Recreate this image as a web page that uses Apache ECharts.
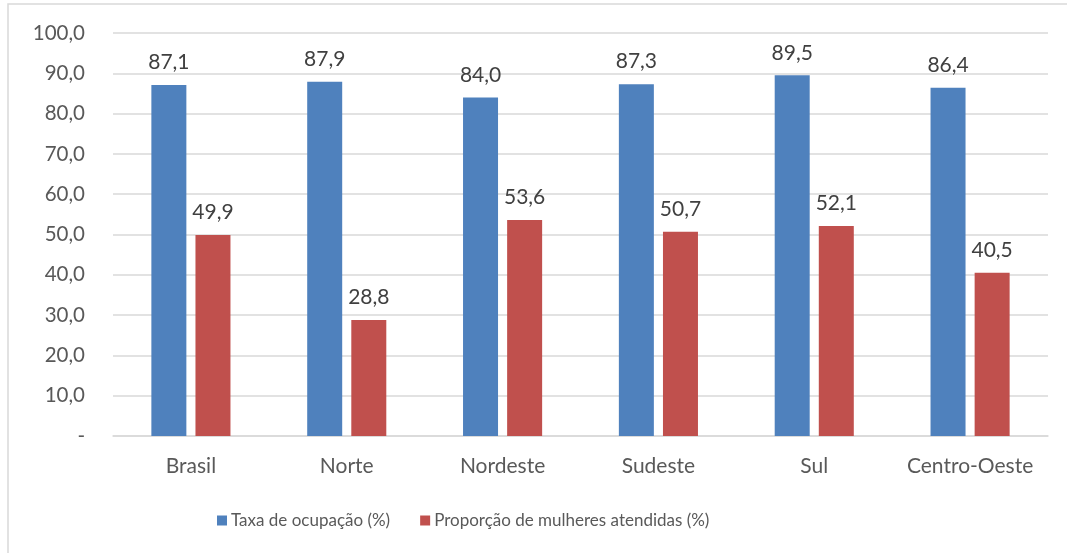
<!DOCTYPE html>
<html><head><meta charset="utf-8">
<script src="https://cdn.jsdelivr.net/npm/echarts@6/dist/echarts.min.js"></script>
<style>html,body{margin:0;padding:0;background:#fff}#c{width:1067px;height:553px}</style>
</head><body><div id="c"></div>
<script>
const categories = ['Brasil','Norte','Nordeste','Sudeste','Sul','Centro-Oeste'];
const taxaOcupacao = [87.1, 87.9, 84.0, 87.3, 89.5, 86.4];
const proporcaoMulheres = [49.9, 28.8, 53.6, 50.7, 52.1, 40.5];
const seriesNames = ['Taxa de ocupação (%)', 'Proporção de mulheres atendidas (%)'];
const fmt = v => v === 0 ? '-' : Number(v).toFixed(1).replace('.', ',');
const FONT = 'Lato';
const chart = echarts.init(document.getElementById('c'));
chart.setOption({
  animation: false,
  backgroundColor: '#fff',
  textStyle: {fontFamily: FONT},
  graphic: [{type:'rect', shape:{x:8, y:4, width:1070, height:560}, style:{fill:'none', stroke:'#d9d9d9', lineWidth:1.5}}],
  grid: {left:113, right:19, top:33, bottom:117},
  legend: {
    top: 507, left: 212, itemWidth: 10, itemHeight: 10, itemGap: 30,
    icon: 'rect',
    textStyle: {fontFamily: FONT, fontSize: 17, color: '#595959', padding: [0,0,0,-1]},
    data: seriesNames
  },
  xAxis: {
    type: 'category', data: categories,
    axisLine: {lineStyle: {color: '#d9d9d9', width: 1.5}},
    axisTick: {show: false},
    axisLabel: {interval: 0, fontFamily: FONT, fontSize: 21, color: '#595959', margin: 20}
  },
  yAxis: {
    type: 'value', min: 0, max: 100, interval: 10,
    axisLine: {show: false}, axisTick: {show: false},
    splitLine: {lineStyle: {color: '#d9d9d9', width: 1.5}},
    axisLabel: {fontFamily: FONT, fontSize: 20.5, color: '#595959', margin: 28, formatter: fmt}
  },
  series: [
    {name: seriesNames[0], type: 'bar', data: taxaOcupacao, barWidth: 35, barGap: '26%',
     itemStyle: {color: '#4f81bd'},
     label: {show: true, position: 'top', distance: 12, fontFamily: FONT, fontSize: 21, color: '#404040', formatter: p => fmt(p.value)}},
    {name: seriesNames[1], type: 'bar', data: proporcaoMulheres, barWidth: 35,
     itemStyle: {color: '#c0504d'},
     label: {show: true, position: 'top', distance: 12, fontFamily: FONT, fontSize: 21, color: '#404040', formatter: p => fmt(p.value)}}
  ]
});
</script></body></html>
